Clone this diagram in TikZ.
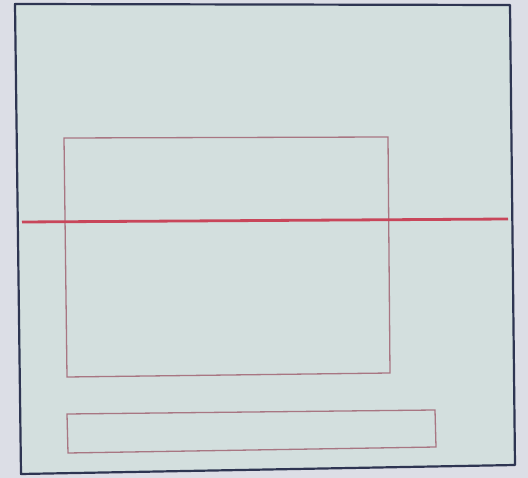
\documentclass[tikz,border=0pt]{standalone}
\definecolor{paper}{HTML}{D3DFDE}
\definecolor{edge}{HTML}{DCDEE6}
\definecolor{frame}{HTML}{2E3552}
\definecolor{redline}{HTML}{C8465A}
\definecolor{thinred}{HTML}{A87682}
\tikzset{
  outerframe/.style={draw=frame, line width=2.2pt, fill=paper, line join=round},
  thinbox/.style={draw=thinred, line width=1.3pt},
  mainline/.style={draw=redline, line width=2.8pt}
}
\begin{document}
\begin{tikzpicture}[x=1pt,y=-1pt]
\fill[edge] (0,0) rectangle (528,478);
\useasboundingbox (0,0) rectangle (528,478);
\draw[outerframe] (15,4) -- (510,5) -- (515,465) -- (21,474) -- cycle;
\draw[thinbox] (64,138) -- (388,137) -- (390,373) -- (67,377) -- cycle;
\draw[thinbox] (67,414) -- (435,410) -- (436,447) -- (68,453) -- cycle;
\coordinate (lineL) at (22,222);
\coordinate (lineR) at (508,219);
\draw[mainline] (lineL) -- (lineR);
\end{tikzpicture}
\end{document}
